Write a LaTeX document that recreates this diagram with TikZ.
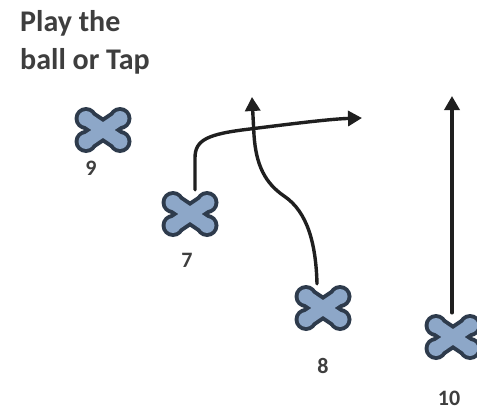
\documentclass[tikz,border=0pt]{standalone}
\usepackage{fontspec}
\setmainfont{Carlito}
\usetikzlibrary{arrows.meta}
\definecolor{xfill}{HTML}{8DA7C8}
\definecolor{xline}{HTML}{2E3B4C}
\definecolor{txt}{HTML}{3E3E3E}
\tikzset{
  player/.style={minimum width=60pt, minimum height=48pt, inner sep=0pt,
    path picture={
      \begin{scope}[shift={(path picture bounding box.center)}]
        \draw[xline, line width=21pt, line cap=round] (-17,-11.5) -- (17,11.5) (-17,11.5) -- (17,-11.5);
        \foreach \sx/\sy in {-17/-11.5,17/11.5,-17/11.5,17/-11.5} \fill[xline] (\sx,\sy) circle (11.5);
        \draw[xfill, line width=13pt, line cap=round] (-17,-11.5) -- (17,11.5) (-17,11.5) -- (17,-11.5);
        \foreach \sx/\sy in {-17/-11.5,17/11.5,-17/11.5,17/-11.5} \fill[xfill] (\sx,\sy) circle (7.5);
      \end{scope}
    }},
  num/.style={text=txt, font=\bfseries\fontsize{22}{24}\selectfont, inner sep=0pt},
  title/.style={text=txt, font=\bfseries\fontsize{30}{38}\selectfont, align=left, inner sep=0pt},
  arr/.style={draw=black!88, line width=3.4pt, line cap=round,
    -{Triangle[width=15pt,length=14pt]}}
}
\begin{document}
\begin{tikzpicture}[x=1pt,y=1pt]
\useasboundingbox[fill=white] (0,0) rectangle (477,-415);
\node[title, anchor=north west] (t) at (20,-10) {Play the\\ball or Tap};
\node[player] (p9) at (103,-130) {};
\node[player] (p7) at (190,-214) {};
\node[player] (p8) at (323,-308) {};
\node[player] (p10) at (453,-337) {};
\node[num] (l9) at (91,-168) {9};
\node[num] (l7) at (187,-260) {7};
\node[num] (l8) at (323,-366) {8};
\node[num] (l10) at (449,-398) {10};
\coordinate (e7) at (362,-118);
\coordinate (e8) at (252,-97);
\coordinate (e10) at (452,-96);
\draw[arr] (p7.north -| 195,0) -- (195,-158) .. controls (195,-140) and (207,-134) .. (250,-129) .. controls (290,-124) and (330,-119) .. (e7);
\draw[arr] (p8.north -| 317,0) .. controls (316,-245) and (308,-212) .. (284,-196) .. controls (265,-183) and (256,-165) .. (254,-135) -- (e8);
\draw[arr] (p10.north -| 452,0) -- (e10);
\end{tikzpicture}
\end{document}
